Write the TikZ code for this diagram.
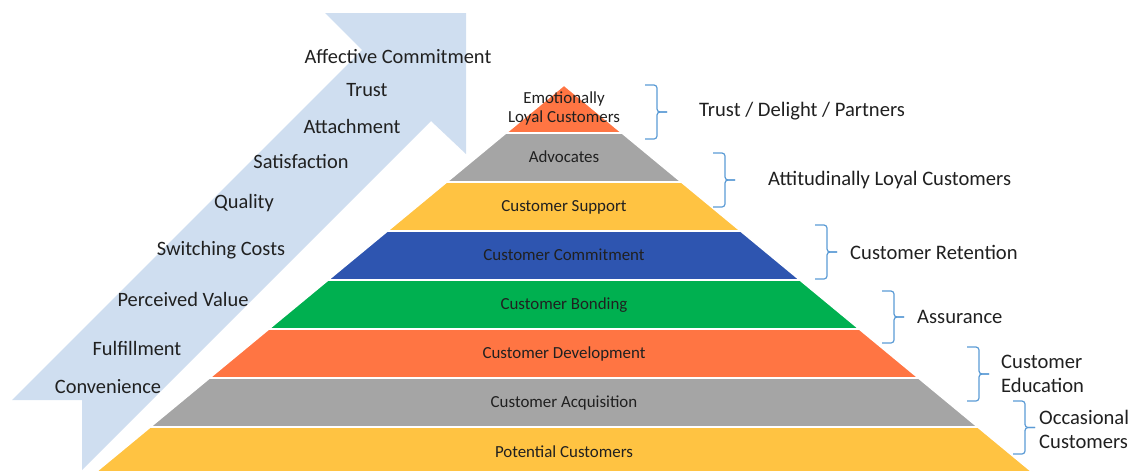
\documentclass[tikz,border=0pt]{standalone}
\usepackage{fontspec}
\setmainfont{Carlito}
\usetikzlibrary{positioning}
\definecolor{pyrOrange}{RGB}{255,117,67}
\definecolor{pyrGray}{RGB}{165,165,165}
\definecolor{pyrYellow}{RGB}{255,195,66}
\definecolor{pyrBlue}{RGB}{46,85,176}
\definecolor{pyrGreen}{RGB}{0,176,80}
\definecolor{arrowBlue}{RGB}{207,222,240}
\definecolor{braceBlue}{RGB}{91,155,213}
\definecolor{textDark}{RGB}{32,32,32}

\begin{document}
\begin{tikzpicture}[x=1pt, y=-1pt,
			layer/.style={fill=#1, draw=white, line width=1.6pt},
			layerText/.style={font=\fontsize{16.9}{19}\selectfont, text=textDark, align=center, inner sep=0pt},
			stepText/.style={font=\fontsize{20.4}{24}\selectfont, text=textDark, inner sep=0pt},
			sideText/.style={font=\fontsize{20.6}{24}\selectfont, text=textDark, align=left, inner sep=0pt, anchor=west},
			bracket/.style={draw=braceBlue, line width=1.2pt, rounded corners=3pt},
			]
			\useasboundingbox (0,0) rectangle (1134,472);
			
			% big arrow
			\fill[arrowBlue] (12,400) -- (82,400) -- (82,470) -- (431,121) -- (466,154) -- (466,13) -- (325,13) -- (362,50) -- cycle;
			\foreach \x/\y/\txt [count=\i] in {398/57/Affective Commitment, 367/90/Trust, 352/126/Attachment, 301/162/Satisfaction, 244/203/Quality, 221/250/Switching Costs, 183/299/Perceived Value, 137/348/Fulfillment, 108/387/Convenience}
			{\draw node[stepText] (step\i) at (\x,\y) {\txt};}
			
			% pyramid
			\foreach \ya/\yb/\col [count=\i] in {85/133/pyrOrange, 133/182/pyrGray, 182/231/pyrYellow, 231/280/pyrBlue, 280/329/pyrGreen, 329/378/pyrOrange, 378/427/pyrGray, 427/472/pyrYellow}
			{
				\pgfmathsetmacro{\wa}{1.21*(\ya-85)}
				\pgfmathsetmacro{\wb}{1.21*(\yb-85)}
				\draw[layer=\col] (564-\wa,\ya) -- (564+\wa,\ya) -- (564+\wb,\yb) -- (564-\wb,\yb) -- cycle;
			}
			\draw node[layerText] (level1) at (564,108.5) {Emotionally\\Loyal Customers};
			\foreach \y/\txt [count=\i from 2] in {157/Advocates, 207/Customer Support, 255/Customer Commitment, 305/Customer Bonding, 354/Customer Development, 403/Customer Acquisition, 452/Potential Customers}
			{\draw node[layerText] (level\i) at (564,\y) {\txt};}
			
			% braces
			\foreach \x/\ya/\yb [count=\i] in {645/85/139, 713/153/207, 815/225/279, 882/291/343, 967/347/401, 1013/401/454}
			{
				\pgfmathsetmacro{\ym}{(\ya+\yb)/2}
				\coordinate (brace\i top) at (\x,\ya);
				\coordinate (brace\i bot) at (\x,\yb);
				\coordinate (brace\i tip) at (\x+22,\ym);
				\draw[bracket] (brace\i top) -- ++(12,0) |- (brace\i tip);
				\draw[bracket] (brace\i bot) -- ++(12,0) |- (brace\i tip);
			}
			\draw node[sideText] (group1) at (699,111) {Trust / Delight / Partners};
			\draw node[sideText] (group2) at (768,180) {Attitudinally Loyal Customers};
			\draw node[sideText] (group3) at (850,252) {Customer Retention};
			\draw node[sideText] (group4) at (917,317) {Assurance};
			\draw node[sideText] (group5) at (1001,374) {Customer\\Education};
			\draw node[sideText] (group6) at (1039,429) {Occasional\\Customers};
			
		\end{tikzpicture}
\end{document}
